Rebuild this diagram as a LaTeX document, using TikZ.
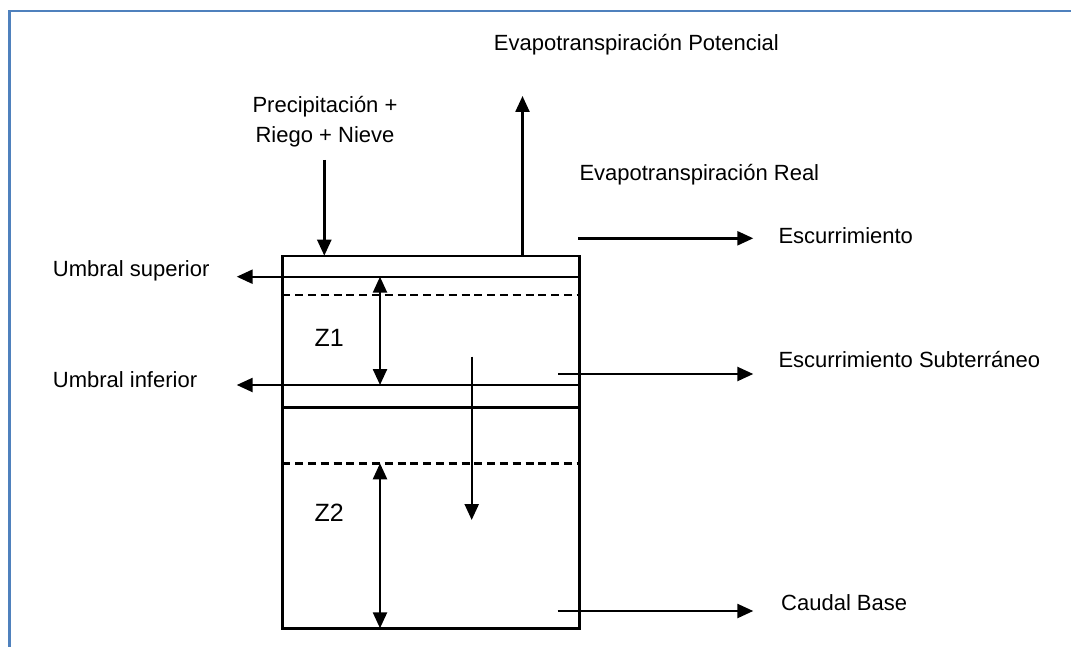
\documentclass[tikz,border=0pt]{standalone}
\usepackage{fontspec}
\setmainfont{Liberation Sans}
\usetikzlibrary{arrows.meta}
\definecolor{framecol}{RGB}{79,129,189}
\begin{document}
\begin{tikzpicture}[x=0.5pt, y=-0.5pt, line width=1.2pt,
  every node/.style={font=\fontsize{11}{15}\selectfont, inner sep=0pt},
  zlabel/.style={font=\fontsize{12.5}{15}\selectfont},
  flow/.style={-{Triangle[length=8pt,width=7pt]}},
  twoway/.style={{Triangle[length=8pt,width=7pt]}-{Triangle[length=8pt,width=7pt]}},
  level/.style={dash pattern=on 4pt off 2.4pt}]
\useasboundingbox (0,0) rectangle (1071,647);
\draw[framecol, line width=1.4pt] (9.3,660) -- (9.3,11) -- (1080,11);
% tank and layers
\coordinate (tnw) at (282.3,255.7);
\coordinate (tse) at (579.3,628.3);
\draw (tnw) rectangle (tse);
\coordinate (usl) at (282.3,276.7);
\coordinate (usr) at (579.3,276.7);
\coordinate (uil) at (282.3,385);
\coordinate (uir) at (579.3,385);
\draw (usl) -- (usr) (uil) -- (uir)
      (282.3,407.3) -- (579.3,407.3);
\draw[level] (282.3,295) -- (579.3,295)
             (282.3,463.3) -- (579.3,463.3);
% labels
\node [align=center, anchor=north] (precip) at (325,95) {Precipitación +\\Riego + Nieve};
\node [anchor=base west] (etp) at (492.7,50.7) {Evapotranspiración Potencial};
\node [anchor=base west] (etr) at (578.3,180) {Evapotranspiración Real};
\node [anchor=base west] (esc) at (777.3,243) {Escurrimiento};
\node [anchor=base west] (escsub) at (777.3,367) {Escurrimiento Subterráneo};
\node [anchor=base west] (caudal) at (780,610.5) {Caudal Base};
\node [anchor=base west] (usup) at (51.7,276) {Umbral superior};
\node [anchor=base west] (uinf) at (51.7,387.3) {Umbral inferior};
\node [zlabel, anchor=base west] (zone1) at (313.5,346) {Z1};
\node [zlabel, anchor=base west] (zone2) at (313.5,521.7) {Z2};
% flows
\coordinate (pin0) at (324.3,160);
\coordinate (pin1) at (324.3,255.7);
\coordinate (etp0) at (522.5,255.7);
\coordinate (etp1) at (522.5,96);
\coordinate (esc0) at (578.3,238.3);
\coordinate (esc1) at (753.3,238.3);
\coordinate (sub0) at (558.3,374);
\coordinate (sub1) at (753.3,374);
\coordinate (cb0) at (557.7,611);
\coordinate (cb1) at (753.3,611);
\coordinate (us1) at (236.7,276.7);
\coordinate (ui1) at (236.7,385);
\coordinate (perc0) at (471.7,356.7);
\coordinate (perc1) at (471.7,520);
\draw[flow] (pin0) -- (pin1);
\draw[flow] (etp0) -- (etp1);
\draw[flow] (esc0) -- (esc1);
\draw[flow] (sub0) -- (sub1);
\draw[flow] (cb0) -- (cb1);
\draw[flow] (usl) -- (us1);
\draw[flow] (uil) -- (ui1);
\draw[flow] (perc0) -- (perc1);
\draw[twoway] (380,276.7) -- (380,385);
\draw[twoway] (380,463.3) -- (380,628.3);
\end{tikzpicture}
\end{document}
